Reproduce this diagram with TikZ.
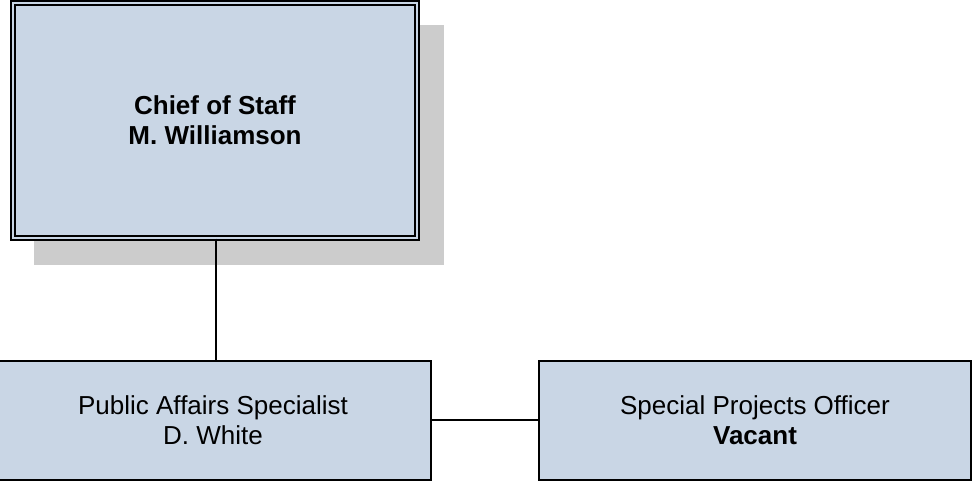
\documentclass[tikz,border=0pt]{standalone}
\usepackage{fontspec}
\setmainfont{Liberation Sans}
\definecolor{boxfill}{RGB}{201,214,229}
\definecolor{shadowgray}{RGB}{204,204,204}
\begin{document}
\begin{tikzpicture}[x=1pt,y=-1pt,
  orgbox/.style={draw=black, fill=boxfill, line width=1.6pt, inner sep=0pt, align=center,
    font=\fontsize{26}{30}\selectfont, rectangle},
  conn/.style={draw=black, line width=1.8pt}]
\useasboundingbox (0,0) rectangle (972,481);
\fill[shadowgray] (34,25) rectangle (444,265);
\node[orgbox, line width=1.5pt, double=boxfill, double distance=2.6pt,
  minimum width=404pt, minimum height=235pt] (chief) at (215,120.5)
  {\textbf{Chief of Staff}\\\textbf{M. Williamson}};
\node[orgbox, minimum width=436pt, minimum height=119pt] (pas) at (213,420.5)
  {Public Affairs Specialist\\D. White};
\node[orgbox, minimum width=432pt, minimum height=119pt] (spo) at (755,420.5)
  {Special Projects Officer\\\textbf{Vacant}};
\draw[conn] ([xshift=1pt]chief.south) -- ([xshift=1pt]chief.south |- pas.north);
\draw[conn] ([yshift=0.5pt]pas.east) -- ([yshift=0.5pt]spo.west);
\end{tikzpicture}
\end{document}
